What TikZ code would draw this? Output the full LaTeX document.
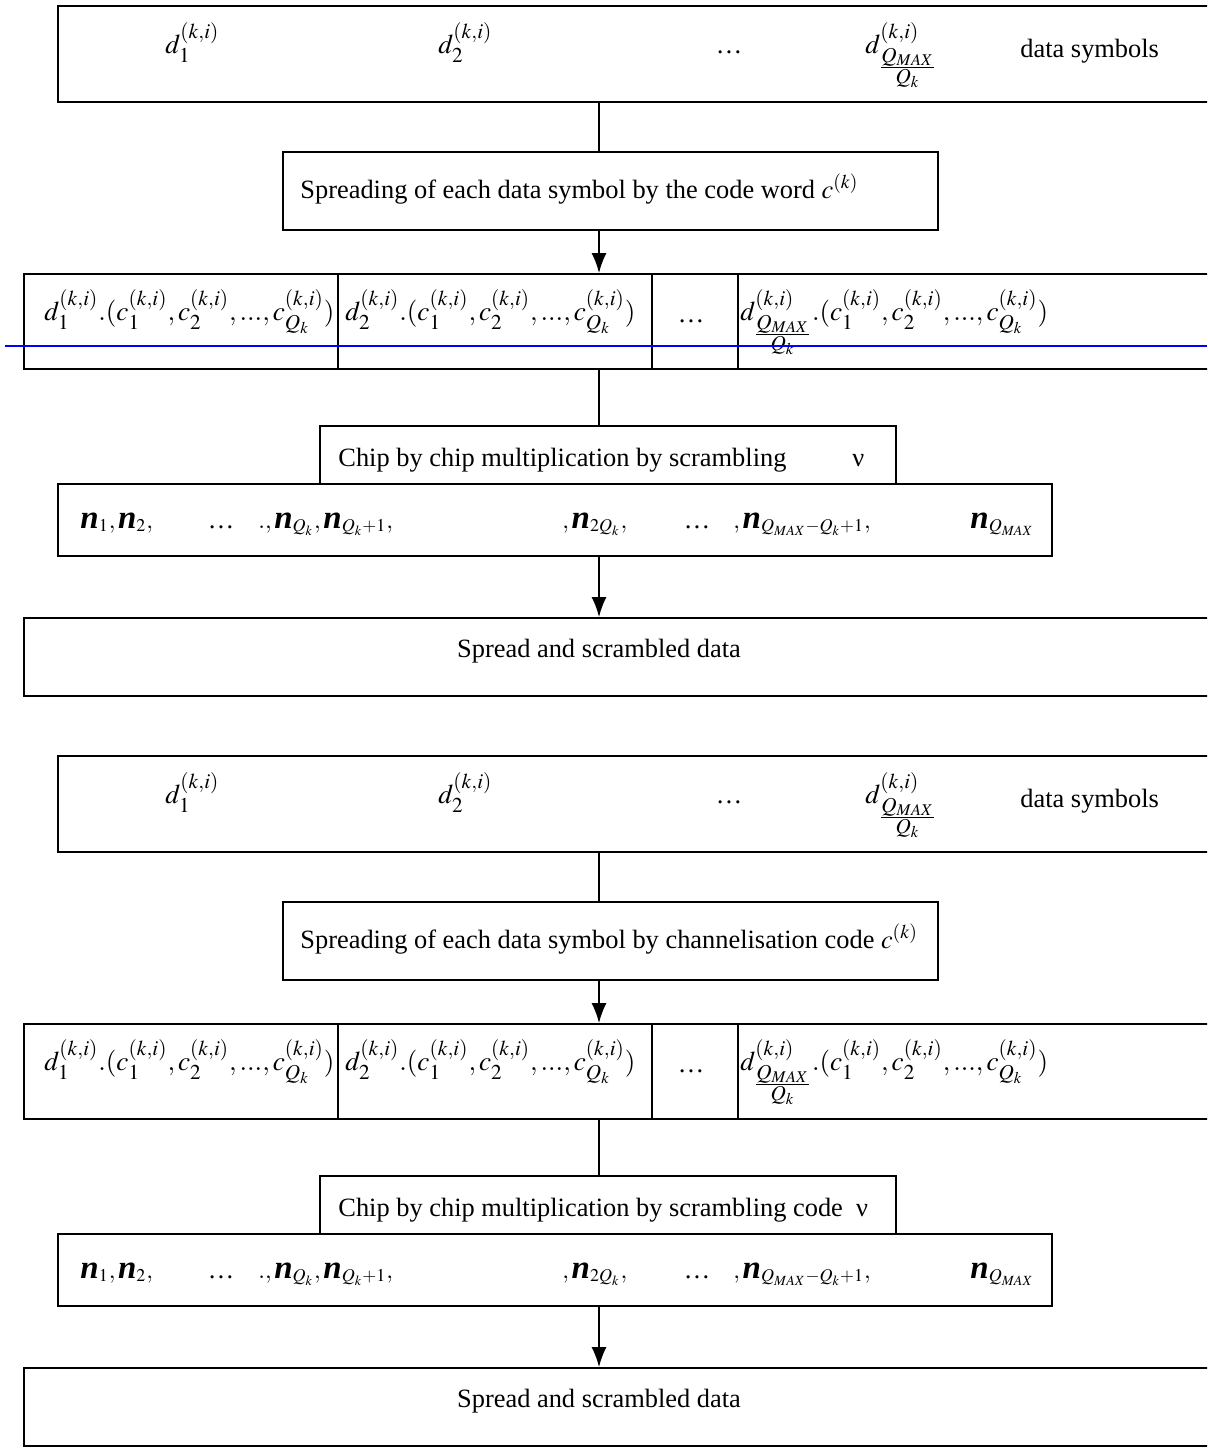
\documentclass[tikz,border=0pt]{standalone}
\usepackage{amsmath}
\usepackage{mathptmx}
\usepackage[no-math]{fontspec}
\setmainfont{Liberation Serif}
\DeclareMathSizes{13.6}{13.6}{10.6}{8.2}
\DeclareMathSizes{12}{12}{9}{7}
\usetikzlibrary{arrows.meta,fit}
\newcommand{\nn}{\mbox{\fontsize{16.5}{18}\selectfont\bfseries\itshape n}}
\newcommand{\qfr}{\lower6.5pt\hbox{$\genfrac{}{}{0.5pt}{1}{Q_{MAX}}{Q_k}$}}
\newcommand{\cseq}{(c_1^{(k,i)},c_2^{(k,i)},...,c_{Q_k}^{(k,i)})}
\newcommand{\drawhalf}[4]{%
\begin{scope}[shift={(0,#1)}]
 \node[box, fit={(58,6) (1250,102)}] (b1#2) {};
 \node[box, fit={(283,152) (938,230)}] (b2#2) {};
 \node[box, fit={(24,274) (1250,369)}] (b3#2) {};
 \node[box, fit={(320,426) (896,484)}] (b4#2) {};
 \node[box, fit={(58,484) (1052,556)}] (b5#2) {};
 \node[box, fit={(24,618) (1250,696)}] (b6#2) {};
 % dividers in b3
 \coordinate (d1#2) at (338,0);
 \coordinate (d2#2) at (652,0);
 \coordinate (d3#2) at (738,0);
 \draw[divider] (b3#2.north -| d1#2) -- (b3#2.south -| d1#2);
 \draw[divider] (b3#2.north -| d2#2) -- (b3#2.south -| d2#2);
 \draw[divider] (b3#2.north -| d3#2) -- (b3#2.south -| d3#2);
 % texts box 1
 \node[mtxt, anchor=base west] (t11#2) at (165,53) {$d_1^{(k,i)}$};
 \node[mtxt, anchor=base west] (t12#2) at (438,53) {$d_2^{(k,i)}$};
 \node[txt, anchor=base] (t13#2) at (729,53) {\ldots};
 \node[mtxt, anchor=base west] (t14#2) at (865,53) {$d^{(k,i)}_{\qfr}$};
 \node[txt, anchor=base west] (t15#2) at (1020,57) {data symbols};
 % box 2
 \node[txt, anchor=base west] (t2#2) at (300,198) {#3};
 % box 3
 \node[mtxt, anchor=base west] (t31#2) at (44,320) {$d_1^{(k,i)}.\cseq$};
 \node[mtxt, anchor=base west] (t32#2) at (345,320) {$d_2^{(k,i)}.\cseq$};
 \node[txt, anchor=base] (t33#2) at (691,322) {\ldots};
 \node[mtxt, anchor=base west] (t34#2) at (740,320) {$d^{(k,i)}_{\qfr}.\cseq$};
 % box 4
 \node[txt, anchor=base west] (t4#2) at (338,466) {#4};
 % box 5
 \node[ntxt, anchor=base west] (t51#2) at (80,528) {$\nn_1,\nn_2,$};
 \node[txt, anchor=base] (t52#2) at (221,528) {\ldots};
 \node[ntxt, anchor=base west] (t53#2) at (258,528) {$.,\nn_{Q_k},\nn_{Q_k+1},$};
 \node[ntxt, anchor=base west] (t54#2) at (562,528) {$,\nn_{2Q_k},$};
 \node[txt, anchor=base] (t55#2) at (697,528) {\ldots};
 \node[ntxt, anchor=base west] (t56#2) at (733,528) {$,\nn_{Q_{MAX}-Q_k+1},$};
 \node[ntxt, anchor=base west] (t57#2) at (970,528) {$\nn_{Q_{MAX}}$};
 % box 6
 \node[txt, anchor=base] (t6#2) at (599,657) {Spread and scrambled data};
 % connectors
 \coordinate (ax#2) at (599,0);
 \draw[conn] (b1#2.south -| ax#2) -- (b2#2.north -| ax#2);
 \draw[conn, arr] (b2#2.south -| ax#2) -- (b3#2.north -| ax#2);
 \draw[conn] (b3#2.south -| ax#2) -- (b4#2.north -| ax#2);
 \draw[conn, arr] (b5#2.south -| ax#2) -- (b6#2.north -| ax#2);
\end{scope}}
\begin{document}
\begin{tikzpicture}[x=0.5pt, y=-0.5pt,
  box/.style={draw, line width=1pt, inner sep=0pt},
  divider/.style={line width=0.6pt},
  conn/.style={line width=0.75pt},
  arr/.style={-{Latex[length=10pt,width=7.5pt]}},
  txt/.style={inner sep=0pt, font=\fontsize{13.2}{15}\selectfont},
  mtxt/.style={inner sep=0pt, font=\fontsize{13.6}{16}\selectfont},
  ntxt/.style={inner sep=0pt, font=\fontsize{12}{14}\selectfont}]
\useasboundingbox (0,0) rectangle (1207,1452);
\clip (0,0) rectangle (1207,1452);
\fill[white] (0,0) rectangle (1207,1452);
\drawhalf{0}{a}{Spreading of each data symbol by the code word $c^{(k)}$}{Chip by chip multiplication by scrambling\hspace{33pt}ν}
\drawhalf{750}{b}{Spreading of each data symbol by channelisation code $c^{(k)}$}{Chip by chip multiplication by scrambling code\enspace ν}
% blue line
\coordinate (bl1) at (5,346);
\coordinate (bl2) at (1207,346);
\draw[blue, line width=1.3pt] (bl1) -- (bl2);
\end{tikzpicture}
\end{document}
